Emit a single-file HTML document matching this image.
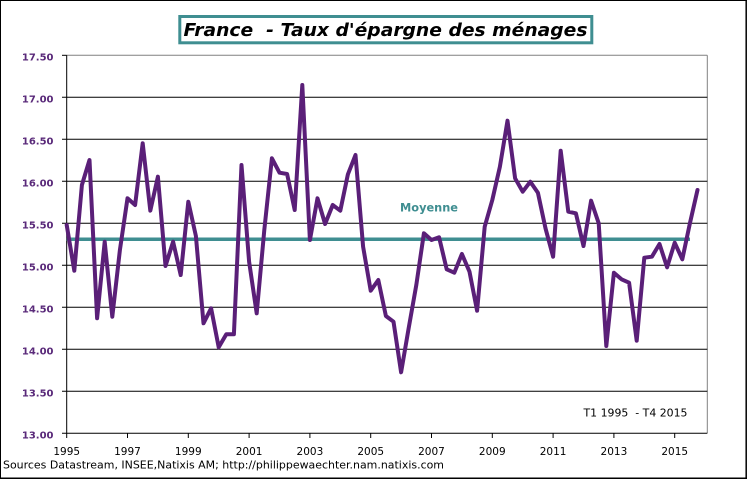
<!DOCTYPE html>
<html>
<head>
<meta charset="utf-8">
<style>
  html,body{margin:0;padding:0;background:#fff;}
  svg{display:block;}
  text{font-family:"DejaVu Sans","Liberation Sans",sans-serif;}
</style>
</head>
<body>
<svg width="748" height="479" viewBox="0 0 748 479" xmlns="http://www.w3.org/2000/svg">
  <rect x="0" y="0" width="748" height="479" fill="#fff"/>
  <!-- outer border -->
  <line x1="0" y1="0.5" x2="747" y2="0.5" stroke="#000" stroke-width="1"/>
  <line x1="0.5" y1="0" x2="0.5" y2="479" stroke="#000" stroke-width="1"/>
  <line x1="746.2" y1="0" x2="746.2" y2="479" stroke="#000" stroke-width="1.5"/>
  <line x1="0" y1="478.2" x2="747" y2="478.2" stroke="#000" stroke-width="1.5"/>

  <!-- title box -->
  <rect x="179.8" y="16.5" width="412" height="26.3" fill="#fff" stroke="#3f8e91" stroke-width="3"/>
  <text x="183.5" y="36" font-size="17.5" font-weight="bold" font-style="italic" fill="#000" textLength="404" lengthAdjust="spacingAndGlyphs">France &#160;- Taux d'épargne des ménages</text>

  <!-- plot frame -->
  <line x1="66.7" y1="55.3" x2="707.3" y2="55.3" stroke="#808080" stroke-width="1"/>
  <line x1="707.3" y1="55.3" x2="707.3" y2="433.3" stroke="#808080" stroke-width="1"/>

  <!-- gridlines -->
  <g stroke="#000" stroke-width="1">
    <line x1="62" y1="97.3" x2="707.3" y2="97.3"/>
    <line x1="62" y1="139.3" x2="707.3" y2="139.3"/>
    <line x1="62" y1="181.3" x2="707.3" y2="181.3"/>
    <line x1="62" y1="223.3" x2="707.3" y2="223.3"/>
    <line x1="62" y1="265.3" x2="707.3" y2="265.3"/>
    <line x1="62" y1="307.3" x2="707.3" y2="307.3"/>
    <line x1="62" y1="349.3" x2="707.3" y2="349.3"/>
    <line x1="62" y1="391.3" x2="707.3" y2="391.3"/>
    <line x1="62" y1="55.3" x2="66.7" y2="55.3"/>
    <!-- axes -->
    <line x1="62" y1="433.3" x2="707.3" y2="433.3"/>
    <line x1="66.7" y1="55.3" x2="66.7" y2="438"/>
    <!-- x ticks -->
    <line x1="127.5" y1="433.3" x2="127.5" y2="438"/>
    <line x1="188.3" y1="433.3" x2="188.3" y2="438"/>
    <line x1="249.1" y1="433.3" x2="249.1" y2="438"/>
    <line x1="309.9" y1="433.3" x2="309.9" y2="438"/>
    <line x1="370.7" y1="433.3" x2="370.7" y2="438"/>
    <line x1="431.5" y1="433.3" x2="431.5" y2="438"/>
    <line x1="492.3" y1="433.3" x2="492.3" y2="438"/>
    <line x1="553.1" y1="433.3" x2="553.1" y2="438"/>
    <line x1="613.9" y1="433.3" x2="613.9" y2="438"/>
    <line x1="674.7" y1="433.3" x2="674.7" y2="438"/>
  </g>

  <!-- y labels -->
  <g font-size="10" font-weight="bold" fill="#5a2a7a" text-anchor="end">
    <text x="53.5" y="60.5">17.50</text>
    <text x="53.5" y="102.5">17.00</text>
    <text x="53.5" y="144.5">16.50</text>
    <text x="53.5" y="186.5">16.00</text>
    <text x="53.5" y="228.5">15.50</text>
    <text x="53.5" y="270.5">15.00</text>
    <text x="53.5" y="312.5">14.50</text>
    <text x="53.5" y="354.5">14.00</text>
    <text x="53.5" y="396.5">13.50</text>
    <text x="53.5" y="438.5">13.00</text>
  </g>

  <!-- x labels -->
  <g font-size="10.5" fill="#000" text-anchor="middle">
    <text x="66.7" y="455">1995</text>
    <text x="127.5" y="455">1997</text>
    <text x="188.3" y="455">1999</text>
    <text x="249.1" y="455">2001</text>
    <text x="309.9" y="455">2003</text>
    <text x="370.7" y="455">2005</text>
    <text x="431.5" y="455">2007</text>
    <text x="492.3" y="455">2009</text>
    <text x="553.1" y="455">2011</text>
    <text x="613.9" y="455">2013</text>
    <text x="674.7" y="455">2015</text>
  </g>

  <text x="3" y="468.5" font-size="10.5" fill="#000" textLength="441" lengthAdjust="spacingAndGlyphs">Sources Datastream, INSEE,Natixis AM; http://philippewaechter.nam.natixis.com</text>

  <text x="583.5" y="416.7" font-size="10.5" fill="#000" textLength="104" lengthAdjust="spacingAndGlyphs">T1 1995 &#160;- T4 2015</text>

  <!-- mean line -->
  <line x1="66.7" y1="239.3" x2="690" y2="239.3" stroke="#3f8e91" stroke-width="3.5"/>
  <text x="400" y="211.7" font-size="11.5" font-weight="bold" fill="#3f8e91" textLength="58" lengthAdjust="spacingAndGlyphs">Moyenne</text>

  <!-- series -->
  <polyline fill="none" stroke="#5a1f78" stroke-width="4" stroke-linejoin="round" stroke-linecap="round" points="
66.7,225 74.3,270.7 81.9,185 89.5,160 97.1,318.3 104.7,241.7 112.3,316.7 119.9,250 127.5,198.3 135.1,205
142.7,143.3 150.3,210.7 157.9,176.7 165.5,266 173.1,241.7 180.7,275 188.3,201.7 195.9,236 203.5,323.3 211.1,308.3
218.7,347.3 226.3,334.3 233.9,334.3 241.5,165 249.1,261.7 256.7,313.3 264.3,230 271.9,158.3 279.5,172.7 287.1,174
294.7,210 302.3,85 309.9,240 317.5,198.3 325.1,224 332.7,205 340.3,210.7 347.9,174.3 355.5,155 363.1,246.7
370.7,290.7 378.3,280 385.9,316 393.5,321.7 401.1,372.3 408.7,328 416.3,285 423.9,233.3 431.5,240 439.1,237.3
446.7,269.3 454.3,272.7 461.9,254 469.5,271.7 477.1,310.7 484.7,226.7 492.3,200 499.9,166.7 507.5,120.7 515.1,178.3
522.7,191.7 530.3,181.7 537.9,192.7 545.5,228.3 553.1,256.7 560.7,150.7 568.3,211.7 575.9,213.3 583.5,246 591.1,200.7
598.7,223.3 606.3,346 613.9,272.7 621.5,279.3 629.1,282.7 636.7,340.7 644.3,257.7 651.9,256.7 659.5,244 667.1,267.3
674.7,242.7 682.3,259.3 689.9,223.3 697.5,190"/>
</svg>
</body>
</html>
